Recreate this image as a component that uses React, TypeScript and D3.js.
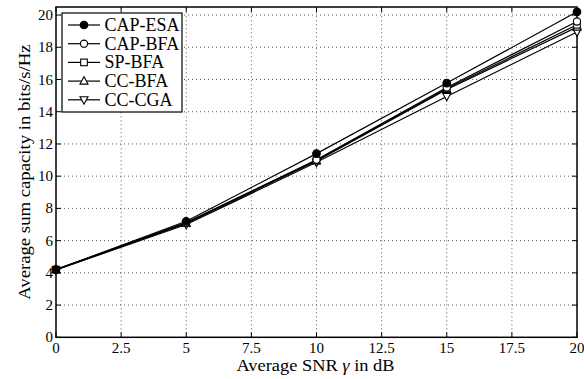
import * as d3 from 'd3';
import { useEffect, useRef } from 'react';

const snr = [0, 5, 10, 15, 20];
const seriesNames = ['CAP-ESA', 'CAP-BFA', 'SP-BFA', 'CC-BFA', 'CC-CGA'];
const capEsa = [4.2, 7.2, 11.4, 15.78, 20.2];
const capBfa = [4.2, 7.12, 11.02, 15.5, 19.6];
const spBfa = [4.2, 7.1, 10.98, 15.44, 19.4];
const ccBfa = [4.2, 7.07, 10.94, 15.38, 19.25];
const ccCga = [4.18, 7.0, 10.86, 14.95, 18.95];
const xTicks = [0, 2.5, 5, 7.5, 10, 12.5, 15, 17.5, 20];
const yTicks = [0, 2, 4, 6, 8, 10, 12, 14, 16, 18, 20];

const seriesValues = [capEsa, capBfa, spBfa, ccBfa, ccCga];
const markers = ['dot', 'circle', 'square', 'up', 'down'];

export default function App() {
  const ref = useRef<SVGSVGElement | null>(null);

  useEffect(() => {
    const svg = d3.select(ref.current);
    svg.selectAll('*').remove();
    const width = 584;
    const height = 379;
    const left = 56;
    const right = 577;
    const top = 7;
    const bottom = 337.3;
    const font = '"Liberation Serif", "Times New Roman", serif';

    svg.attr('width', width).attr('height', height).attr('viewBox', `0 0 ${width} ${height}`);
    svg.append('rect').attr('width', width).attr('height', height).attr('fill', '#fff');

    const x = d3.scaleLinear().domain([0, 20]).range([left, right]);
    const y = d3.scaleLinear().domain([0, 20.5]).range([bottom, top]);

    // dotted grid
    const grid = svg.append('g').attr('stroke', '#333').attr('stroke-width', 0.8).attr('stroke-dasharray', '1,3');
    xTicks.slice(1, -1).forEach((t) => {
      grid.append('line').attr('x1', x(t)).attr('x2', x(t)).attr('y1', bottom).attr('y2', top);
    });
    yTicks.slice(1).forEach((t) => {
      grid.append('line').attr('x1', left).attr('x2', right).attr('y1', y(t)).attr('y2', y(t));
    });

    // inward ticks on all four sides
    const ticks = svg.append('g').attr('stroke', '#000').attr('stroke-width', 1);
    const tl = 5;
    xTicks.forEach((t) => {
      ticks.append('line').attr('x1', x(t)).attr('x2', x(t)).attr('y1', bottom).attr('y2', bottom - tl);
      ticks.append('line').attr('x1', x(t)).attr('x2', x(t)).attr('y1', top).attr('y2', top + tl);
    });
    yTicks.forEach((t) => {
      ticks.append('line').attr('x1', left).attr('x2', left + tl).attr('y1', y(t)).attr('y2', y(t));
      ticks.append('line').attr('x1', right).attr('x2', right - tl).attr('y1', y(t)).attr('y2', y(t));
    });

    svg
      .append('rect')
      .attr('x', left)
      .attr('y', top)
      .attr('width', right - left)
      .attr('height', bottom - top)
      .attr('fill', 'none')
      .attr('stroke', '#000')
      .attr('stroke-width', 1.5);

    // tick labels
    svg
      .append('g')
      .selectAll('text')
      .data(xTicks)
      .join('text')
      .attr('x', (d) => x(d))
      .attr('y', 352.5)
      .attr('text-anchor', 'middle')
      .attr('font-family', font)
      .attr('font-size', 15)
      .text((d) => String(d));
    svg
      .append('g')
      .selectAll('text')
      .data(yTicks)
      .join('text')
      .attr('x', 53)
      .attr('y', (d) => y(d) + 5)
      .attr('text-anchor', 'end')
      .attr('font-family', font)
      .attr('font-size', 15)
      .text((d) => String(d));

    // axis labels (slightly stretched along the text, as in the source figure)
    const xl = svg
      .append('text')
      .attr('transform', `translate(${x(10) - 1},370.5) scale(1.15,1)`)
      .attr('text-anchor', 'middle')
      .attr('font-family', font)
      .attr('font-size', 16);
    xl.append('tspan').text('Average SNR ');
    xl.append('tspan').attr('font-style', 'italic').text('γ');
    xl.append('tspan').text(' in dB');

    svg
      .append('text')
      .attr('transform', `translate(30,${(top + bottom) / 2}) rotate(-90) scale(1.17,1)`)
      .attr('text-anchor', 'middle')
      .attr('font-family', font)
      .attr('font-size', 16)
      .text('Average sum capacity in bits/s/Hz');

    const drawMarker = (g: d3.Selection<SVGGElement, unknown, null, undefined>, kind: string, cx: number, cy: number) => {
      const common = (s: any) => s.attr('stroke', '#000').attr('stroke-width', 1.1);
      if (kind === 'dot') {
        common(g.append('circle').attr('cx', cx).attr('cy', cy).attr('r', 3.8).attr('fill', '#000'));
      } else if (kind === 'circle') {
        common(g.append('circle').attr('cx', cx).attr('cy', cy).attr('r', 3.6).attr('fill', '#fff'));
      } else if (kind === 'square') {
        common(g.append('rect').attr('x', cx - 3.3).attr('y', cy - 3.3).attr('width', 6.6).attr('height', 6.6).attr('fill', '#fff'));
      } else if (kind === 'up') {
        common(
          g
            .append('path')
            .attr('d', `M${cx},${cy - 4.4}L${cx + 4},${cy + 3}L${cx - 4},${cy + 3}Z`)
            .attr('fill', '#fff')
        );
      } else {
        common(
          g
            .append('path')
            .attr('d', `M${cx},${cy + 4.4}L${cx + 4},${cy - 3}L${cx - 4},${cy - 3}Z`)
            .attr('fill', '#fff')
        );
      }
    };

    const line = d3
      .line<number>()
      .x((_, i) => x(snr[i]))
      .y((d) => y(d));

    const plot = svg.append('g');
    seriesValues.forEach((vals) => {
      plot.append('path').attr('d', line(vals) ?? '').attr('fill', 'none').attr('stroke', '#000').attr('stroke-width', 1.2);
    });
    // markers drawn last series first so CAP-ESA sits on top
    [...seriesValues.keys()].reverse().forEach((k) => {
      seriesValues[k].forEach((v, i) => drawMarker(plot, markers[k], x(snr[i]), y(v)));
    });

    // legend
    const lg = svg.append('g');
    lg.append('rect')
      .attr('x', 62)
      .attr('y', 13)
      .attr('width', 120)
      .attr('height', 99)
      .attr('fill', '#fff')
      .attr('stroke', '#000')
      .attr('stroke-width', 1.2);
    seriesNames.forEach((name, k) => {
      const ry = 25 + k * 18.7;
      lg.append('line').attr('x1', 68).attr('x2', 100).attr('y1', ry).attr('y2', ry).attr('stroke', '#000').attr('stroke-width', 1.2);
      drawMarker(lg, markers[k], 84, ry);
      lg.append('text')
        .attr('x', 104.5)
        .attr('y', ry + 6)
        .attr('font-family', font)
        .attr('font-size', 18)
        .text(name);
    });
  }, []);

  return (
    <svg ref={ref} style={{ position: 'absolute', left: 0, top: 0, display: 'block' }} width={584} height={379} />
  );
}
